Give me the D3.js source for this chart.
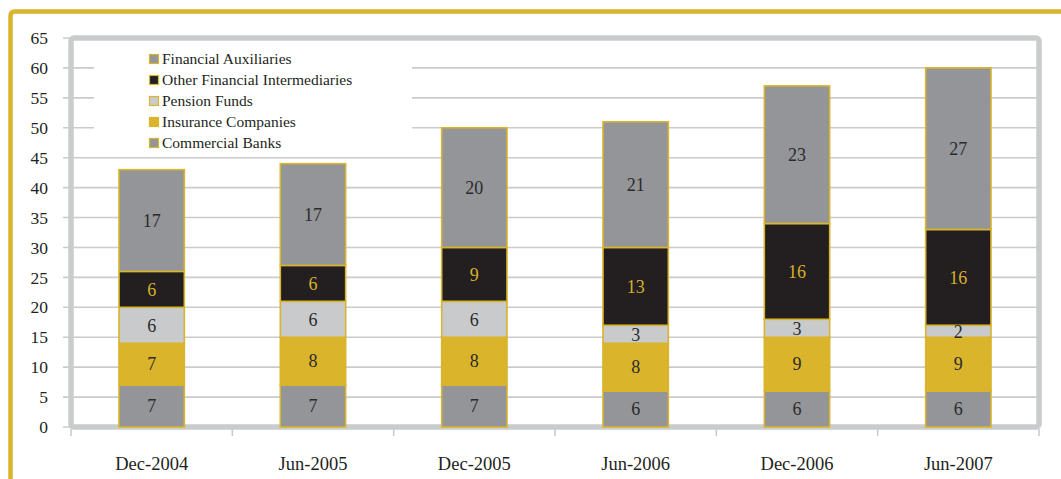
<!DOCTYPE html>
<html>
<head>
<meta charset="utf-8">
<script src="https://cdn.jsdelivr.net/npm/d3@7"></script>
<style>
  html, body { margin: 0; padding: 0; background: #fff; }
  svg { display: block; }
  text { font-family: "Liberation Serif", "DejaVu Serif", serif; }
</style>
</head>
<body>
<svg id="chart" width="1061" height="479"></svg>
<script>
// Period labels along the x axis
const periods = ["Dec-2004", "Jun-2005", "Dec-2005", "Jun-2006", "Dec-2006", "Jun-2007"];

// Stacked series, bottom to top
const seriesNames = ["Commercial Banks", "Insurance Companies", "Pension Funds",
                     "Other Financial Intermediaries", "Financial Auxiliaries"];
const commercialBanks   = [7, 7, 7, 6, 6, 6];
const insuranceCompanies = [7, 8, 8, 8, 9, 9];
const pensionFunds      = [6, 6, 6, 3, 3, 2];
const otherIntermediaries = [6, 6, 9, 13, 16, 16];
const financialAuxiliaries = [17, 17, 20, 21, 23, 27];

const yTicks = [0, 5, 10, 15, 20, 25, 30, 35, 40, 45, 50, 55, 60, 65];

const seriesValues = [commercialBanks, insuranceCompanies, pensionFunds,
                      otherIntermediaries, financialAuxiliaries];
const fills = ["#939598", "#dab52b", "#c9cacc", "#231f20", "#939598"];
const labelColors = ["#2b2b2b", "#2b2b2b", "#2b2b2b", "#d6b02c", "#2b2b2b"];
const gold = "#d9b42c";
const wallGray = "#cacbcc";

const rows = periods.map((p, i) => {
  const r = { period: p };
  seriesNames.forEach((s, k) => { r[s] = seriesValues[k][i]; });
  return r;
});

const svg = d3.select("#chart");
const plotLeft = 71, plotRight = 1039, plotTop = 38, plotBottom = 427;

const x = d3.scaleBand().domain(periods).range([plotLeft, plotRight]).paddingInner(0).paddingOuter(0);
const y = d3.scaleLinear().domain([0, 65]).range([plotBottom, plotTop]);
const barW = x.bandwidth() * 0.405;

// Outer gold frame
svg.append("path")
  .attr("d", `M10.5,479 L10.5,16 Q10.5,11.5 15,11.5 L1061,11.5`)
  .attr("fill", "none").attr("stroke", gold).attr("stroke-width", 4.5);

// Gridlines and left tick marks
svg.append("g").selectAll("line").data(yTicks).join("line")
  .attr("x1", 63).attr("x2", plotRight)
  .attr("y1", d => y(d)).attr("y2", d => y(d))
  .attr("stroke", "#cbcbcb").attr("stroke-width", 1.6);

// Plot walls and floor
svg.append("rect")
  .attr("x", plotLeft).attr("y", plotTop).attr("width", plotRight - plotLeft).attr("height", plotBottom - plotTop)
  .attr("rx", 3).attr("fill", "none").attr("stroke", wallGray).attr("stroke-width", 5.5);

// Category tick marks below the floor
svg.append("g").selectAll("line").data(d3.range(periods.length + 1)).join("line")
  .attr("x1", i => plotLeft + i * x.bandwidth()).attr("x2", i => plotLeft + i * x.bandwidth())
  .attr("y1", plotBottom + 2).attr("y2", plotBottom + 9)
  .attr("stroke", wallGray).attr("stroke-width", 1.6);

// Y axis labels
svg.append("g").selectAll("text").data(yTicks).join("text")
  .attr("x", 48).attr("y", d => y(d)).attr("dy", "0.35em")
  .attr("text-anchor", "end").attr("font-size", 17.5).attr("fill", "#231f20")
  .text(d => d);

// X axis labels
svg.append("g").selectAll("text").data(periods).join("text")
  .attr("x", d => x(d) + x.bandwidth() / 2).attr("y", 470)
  .attr("text-anchor", "middle").attr("font-size", 18.5).attr("fill", "#231f20")
  .text(d => d);

// Stacked bars
const stacked = d3.stack().keys(seriesNames)(rows);
const layers = svg.append("g").selectAll("g").data(stacked).join("g")
  .attr("fill", (d, i) => fills[i]);

layers.selectAll("rect").data(d => d).join("rect")
  .attr("x", d => x(d.data.period) + (x.bandwidth() - barW) / 2)
  .attr("y", d => y(d[1]))
  .attr("width", barW)
  .attr("height", d => y(d[0]) - y(d[1]))
  .attr("stroke", gold).attr("stroke-width", 1.6);

// Value labels centred in each segment
stacked.forEach((layer, k) => {
  svg.append("g").selectAll("text").data(layer).join("text")
    .attr("x", d => x(d.data.period) + x.bandwidth() / 2)
    .attr("y", d => (y(d[0]) + y(d[1])) / 2)
    .attr("dy", "0.35em")
    .attr("text-anchor", "middle").attr("font-size", 18)
    .attr("fill", labelColors[k])
    .text(d => d[1] - d[0]);
});

// Legend, top series first
const legend = svg.append("g");
legend.append("rect").attr("x", 94).attr("y", 46).attr("width", 318).attr("height", 106).attr("fill", "#fff");
const legendOrder = seriesNames.map((s, k) => ({ name: s, k })).reverse();
const item = legend.selectAll("g.item").data(legendOrder).join("g")
  .attr("transform", (d, i) => `translate(149, ${59 + i * 21})`);
item.append("rect")
  .attr("x", 0.5).attr("y", -4.5).attr("width", 9).attr("height", 9)
  .attr("fill", d => fills[d.k]).attr("stroke", gold).attr("stroke-width", 1.2);
item.append("text")
  .attr("x", 13).attr("y", 0).attr("dy", "0.35em")
  .attr("font-size", 15.5).attr("fill", "#231f20")
  .text(d => d.name);
</script>
</body>
</html>
